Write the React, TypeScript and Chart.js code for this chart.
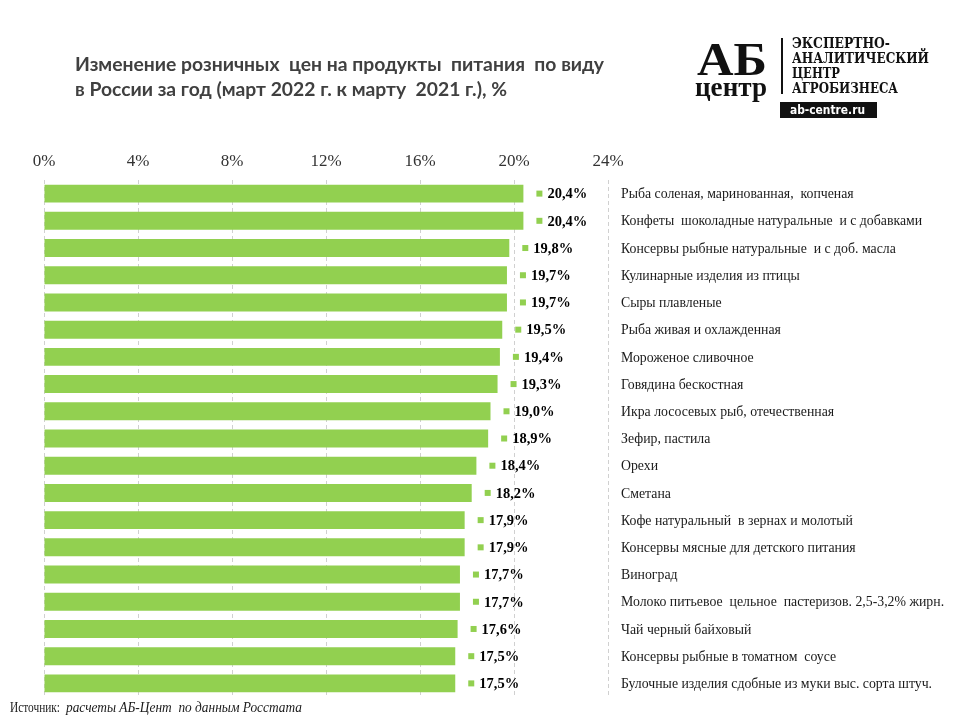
import React, { useEffect, useRef } from "react";
import { Chart, registerables } from "chart.js";

Chart.register(...registerables);

const categories = [
  "Рыба соленая, маринованная,  копченая",
  "Конфеты  шоколадные натуральные  и с добавками",
  "Консервы рыбные натуральные  и с доб. масла",
  "Кулинарные изделия из птицы",
  "Сыры плавленые",
  "Рыба живая и охлажденная",
  "Мороженое сливочное",
  "Говядина бескостная",
  "Икра лососевых рыб, отечественная",
  "Зефир, пастила",
  "Орехи",
  "Сметана",
  "Кофе натуральный  в зернах и молотый",
  "Консервы мясные для детского питания",
  "Виноград",
  "Молоко питьевое  цельное  пастеризов. 2,5-3,2% жирн.",
  "Чай черный байховый",
  "Консервы рыбные в томатном  соусе",
  "Булочные изделия сдобные из муки выс. сорта штуч.",
];

const values = [
  20.4, 20.4, 19.8, 19.7, 19.7, 19.5, 19.4, 19.3, 19.0, 18.9, 18.4, 18.2, 17.9,
  17.9, 17.7, 17.7, 17.6, 17.5, 17.5,
];

const xMin = 0;
const xMax = 24;
const xStep = 4;

const titleLines = [
  "Изменение розничных  цен на продукты  питания  по виду",
  "в России за год (март 2022 г. к марту  2021 г.), %",
];

const logoLines = ["ЭКСПЕРТНО-", "АНАЛИТИЧЕСКИЙ", "ЦЕНТР", "АГРОБИЗНЕСА"];
const logoSite = "ab-centre.ru";
const sourceLabel = "Источник:";
const sourceText = "расчеты АБ-Цент  по данным Росстата";

const BAR_COLOR = "#92d050";

function fitText(
  ctx: CanvasRenderingContext2D,
  text: string,
  x: number,
  y: number,
  width: number
) {
  const w = ctx.measureText(text).width;
  ctx.save();
  ctx.translate(x, y);
  ctx.scale(width / w, 1);
  ctx.fillText(text, 0, 0);
  ctx.restore();
}

const decorPlugin = {
  id: "decor",
  afterDraw(chart: any) {
    const ctx: CanvasRenderingContext2D = chart.ctx;
    const meta = chart.getDatasetMeta(0);
    ctx.save();

    // value labels + category labels
    meta.data.forEach((bar: any, i: number) => {
      const endX = bar.x;
      const cy = bar.y;
      ctx.fillStyle = BAR_COLOR;
      ctx.fillRect(endX + 13, cy - 3, 6, 6);
      ctx.fillStyle = "#000";
      ctx.font = "bold 14.5px 'Liberation Serif'";
      ctx.textBaseline = "middle";
      ctx.textAlign = "left";
      ctx.fillText(values[i].toFixed(1).replace(".", ",") + "%", endX + 24, cy + 1);
      ctx.fillStyle = "#1a1a1a";
      ctx.font = "13.8px 'Liberation Serif'";
      ctx.fillText(categories[i], 621, cy + 1);
    });

    // title
    ctx.fillStyle = "#404040";
    ctx.textBaseline = "alphabetic";
    ctx.font = "bold 19px Lato";
    const w1 = ctx.measureText(titleLines[0]).width;
    const s = 529 / w1;
    titleLines.forEach((t, i) => {
      ctx.save();
      ctx.translate(75, 71 + i * 25);
      ctx.scale(s, 1);
      ctx.fillText(t, 0, 0);
      ctx.restore();
    });

    // logo
    ctx.fillStyle = "#111";
    ctx.font = "bold 47px 'Liberation Serif'";
    fitText(ctx, "АБ", 697, 75, 70);
    ctx.font = "bold 28px 'Liberation Serif'";
    fitText(ctx, "центр", 695, 96, 72);
    ctx.fillRect(781, 38, 2, 56);
    ctx.font = "bold 14px 'DejaVu Serif'";
    const lw = [98, 137, 48, 106];
    logoLines.forEach((t, i) => {
      fitText(ctx, t, 792, 48 + i * 15, lw[i]);
    });
    ctx.fillRect(780, 102, 97, 16);
    ctx.fillStyle = "#fff";
    ctx.font = "bold 13px 'DejaVu Sans'";
    fitText(ctx, logoSite, 790, 114, 75);

    // source
    ctx.fillStyle = "#1a1a1a";
    ctx.font = "14px 'Liberation Serif'";
    fitText(ctx, sourceLabel, 10, 712, 50);
    ctx.font = "italic 14px 'Liberation Serif'";
    fitText(ctx, sourceText, 66, 712, 236);

    ctx.restore();
  },
};

export default function App() {
  const ref = useRef<HTMLCanvasElement>(null);
  useEffect(() => {
    if (!ref.current) return;
    const chart = new Chart(ref.current, {
      type: "bar",
      data: {
        labels: categories,
        datasets: [
          {
            data: values,
            backgroundColor: BAR_COLOR,
            borderWidth: 0,
            barPercentage: 0.66,
            categoryPercentage: 1,
          },
        ],
      },
      options: {
        indexAxis: "y",
        animation: false,
        responsive: false,
        layout: { padding: { left: 44, right: 352, top: 150, bottom: 23 } },
        plugins: {
          legend: { display: false },
          tooltip: { enabled: false },
          title: { display: false },
        },
        scales: {
          x: {
            type: "linear",
            position: "top",
            min: xMin,
            max: xMax,
            ticks: {
              stepSize: xStep,
              padding: 8,
              color: "#333",
              font: { family: "'Liberation Serif'", size: 17 },
              callback: (v: any) => v + "%",
            },
            grid: {
              color: "#d0d0d0",
              drawTicks: false,
              lineWidth: 1,
            },
            border: { display: false, dash: [4, 3] },
            afterFit: (scale: any) => {
              scale.height = 30;
            },
          },
          y: {
            type: "category",
            display: false,
          },
        },
      },
      plugins: [decorPlugin],
    });
    return () => chart.destroy();
  }, []);
  return (
    <div style={{ position: "absolute", left: 0, top: 0, width: 960, height: 720, background: "#fff" }}>
      <canvas ref={ref} width={960} height={720} />
    </div>
  );
}
